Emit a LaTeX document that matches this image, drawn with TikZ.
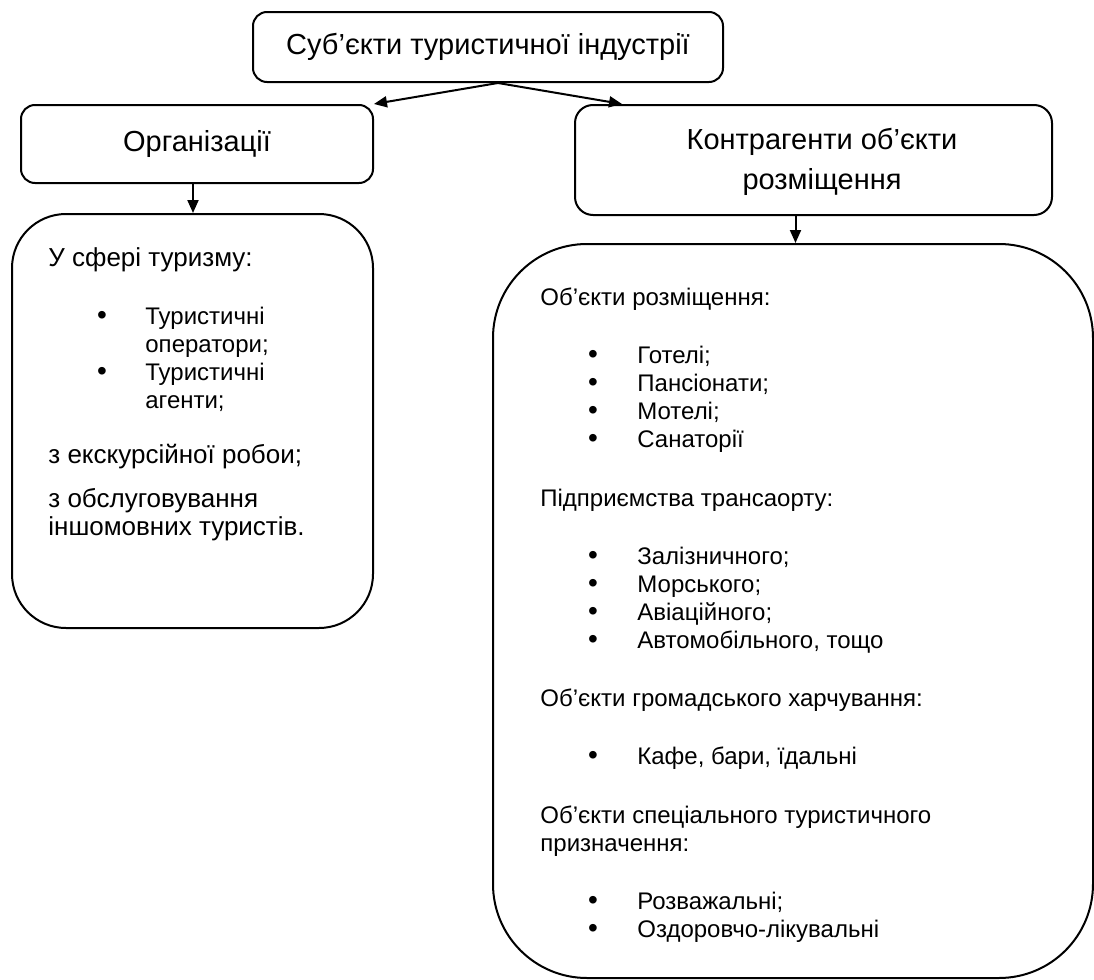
\documentclass[tikz,border=0pt]{standalone}
\usepackage{fontspec}
\setmainfont{Liberation Sans}
\usetikzlibrary{arrows.meta, calc}

\begin{document}
\begin{tikzpicture}[x=0.5pt, y=-0.5pt,
	box/.style={draw, line width=1pt, rounded corners=7pt, inner sep=0pt},
	conn/.style={line width=1pt, -{Triangle[width=5.5pt,length=6.5pt]}},
	title/.style={font=\fontsize{14.5}{20}\selectfont},
	txt/.style={anchor=base west, inner sep=0pt, font=\fontsize{13}{15}\selectfont},
	smalltxt/.style={txt, font=\fontsize{12}{14}\selectfont},
	dot/.style={anchor=base, inner sep=0pt, font=\fontsize{14}{16}\selectfont}]
	\useasboundingbox (0,0) rectangle (1094,980);

	% top row
	\node[box, title, minimum width=235pt, minimum height=35pt] (subj) at (488,47) {Суб’єкти туристичної індустрії};
	\node[box, title, minimum width=176pt, minimum height=39pt] (org) at (197,144) {Організації};
	\node[box, rounded corners=9pt, minimum width=238.5pt, minimum height=55pt] (contr) at (813.5,160) {};
	\node[title, align=center, inner sep=0pt] (contrtxt) at (822,162) {Контрагенти об’єкти\\розміщення};

	% big boxes
	\node[box, rounded corners=27pt, minimum width=180.5pt, minimum height=207pt] (orgbox) at (192.5,421) {};
	\node[box, rounded corners=47pt, minimum width=300pt, minimum height=367pt] (contrbox) at (793,611) {};

	% arrows
	\coordinate (split) at ($(subj.south)+(10,0)$);
	\draw[conn] (split) -- (org.north east);
	\draw[conn] (split) -- ($(contr.north west)+(48,0)$);
	\coordinate (odown) at ($(org.south)+(-4,0)$);
	\coordinate (cdown) at ($(contr.south)+(-18,0)$);
	\draw[conn] (odown) -- (odown |- orgbox.north);
	\draw[conn] (cdown) -- (cdown |- contrbox.north);

	% left box text
	\node[txt] (l1) at (48,266) {У сфері туризму:};
	\node[dot] (lb1) at (102,324) {•};
	\node[smalltxt] (l2) at (145,324) {Туристичні};
	\node[smalltxt] (l3) at (145,352) {оператори;};
	\node[dot] (lb2) at (102,380) {•};
	\node[smalltxt] (l4) at (145,380) {Туристичні};
	\node[smalltxt] (l5) at (145,408) {агенти;};
	\node[txt] (l6) at (48,463) {з екскурсійної робои;};
	\node[txt] (l7) at (48,507) {з обслуговування};
	\node[txt] (l8) at (48,535) {іншомовних туристів.};

	% right box text
	\node[smalltxt] (r1) at (540,305) {Об’єкти розміщення:};
	\node[dot] (rb1) at (593,363) {•};
	\node[smalltxt] (r2) at (637,363) {Готелі;};
	\node[dot] (rb2) at (593,391) {•};
	\node[smalltxt] (r3) at (637,391) {Пансіонати;};
	\node[dot] (rb3) at (593,419) {•};
	\node[smalltxt] (r4) at (637,419) {Мотелі;};
	\node[dot] (rb4) at (593,447) {•};
	\node[smalltxt] (r5) at (637,447) {Санаторії};
	\node[smalltxt] (r6) at (540,506) {Підприємства трансаорту:};
	\node[dot] (rb5) at (593,564) {•};
	\node[smalltxt] (r7) at (637,564) {Залізничного;};
	\node[dot] (rb6) at (593,592) {•};
	\node[smalltxt] (r8) at (637,592) {Морського;};
	\node[dot] (rb7) at (593,620) {•};
	\node[smalltxt] (r9) at (637,620) {Авіаційного;};
	\node[dot] (rb8) at (593,648) {•};
	\node[smalltxt] (r10) at (637,648) {Автомобільного, тощо};
	\node[smalltxt] (r11) at (540,706) {Об’єкти громадського харчування:};
	\node[dot] (rb9) at (593,764) {•};
	\node[smalltxt] (r12) at (637,764) {Кафе, бари, їдальні};
	\node[smalltxt] (r13) at (540,823) {Об’єкти спеціального туристичного};
	\node[smalltxt] (r14) at (540,851) {призначення:};
	\node[dot] (rb10) at (593,909) {•};
	\node[smalltxt] (r15) at (637,909) {Розважальні;};
	\node[dot] (rb11) at (593,937) {•};
	\node[smalltxt] (r16) at (637,937) {Оздоровчо-лікувальні};
\end{tikzpicture}
\end{document}
